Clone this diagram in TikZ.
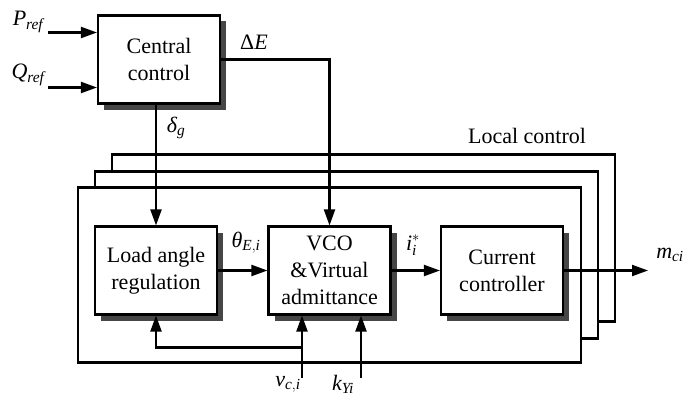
\documentclass[tikz,border=0pt]{standalone}
\usepackage{amsmath}
\usepackage{fontspec}
\setmainfont{Liberation Serif}
\newfontfamily\tnr{Liberation Serif}
\usetikzlibrary{arrows.meta,shadows}
\definecolor{shadowc}{RGB}{70,70,70}
\newcommand{\mi}[1]{\textit{#1}}
\begin{document}
\begin{tikzpicture}[x=1pt,y=-1pt,
  line width=2.1pt,
  blk/.style={draw, fill=white, minimum width=122pt, minimum height=88pt, align=center,
    font=\tnr\fontsize{22}{27}\selectfont, inner sep=0pt,
    drop shadow={shadow xshift=6pt, shadow yshift=-6pt, opacity=1, fill=shadowc}},
  frame/.style={draw, fill=white},
  arr/.style={-{Triangle[length=16pt,width=11pt]}},
  lbl/.style={font=\tnr\fontsize{22}{26}\selectfont, inner sep=0pt},
]
\useasboundingbox (0,0) rectangle (692,401);

% local control frames (back to front)
\draw[frame] (112,154.5) rectangle (615,321.5);
\draw[frame] (95,171.5) rectangle (598,338.5);
\draw[frame] (78,187.5) rectangle (581,362.5);
\node[lbl] (loc) at (527,136) {Local control};

% blocks
\node[blk] (cc) at (159,59.5) {Central\\control};
\node[blk] (load) at (156,270.5) {Load angle\\regulation};
\node[blk] (vco) at (329.5,270.5) {VCO\\\&Virtual\\admittance};
\node[blk] (cur) at (502,270.5) {Current\\controller};

% inputs
\coordinate (pin) at (48,32.5);
\coordinate (qin) at (48,87.5);
\draw[arr] (pin) -- (pin -| cc.west);
\draw[arr] (qin) -- (qin -| cc.west);
\node[lbl] (plbl) at (28,22) {$\mi{P}_{\mi{ref}}$};
\node[lbl] (qlbl) at (28,75) {$\mi{Q}_{\mi{ref}}$};

% central outputs
\draw[arr] (load.north |- cc.south) -- (load.north);
\node[lbl] (dg) at (176,128) {$\mi{δ}_{\mi{g}}$};
\draw[arr] (cc.east) -| (vco.north);
\node[lbl] (de) at (254,42) {$\text{Δ}\mi{E}$};

% signal chain
\draw[arr] (load.east) -- (vco.west);
\node[lbl] (th) at (246,243) {$\mi{θ}_{\mi{E},\mi{i}}$};
\draw[arr] (vco.east) -- (cur.west);
\node[lbl] (ist) at (413,245) {$\mi{i}_{\mi{i}}^{*}$};
\coordinate (mout) at (648,270.5);
\draw[arr] (cur.east) -- (mout);
\node[lbl] (mlbl) at (670,255) {$\mi{m}_{\mi{ci}}$};

% feedback inputs
\coordinate (vc) at (302,378);
\coordinate (fb) at (302,347.5);
\coordinate (ky) at (361,378);
\draw[arr] (vc) -- (vc |- vco.south);
\draw[arr] (fb) -| (load.south);
\draw[arr] (ky) -- (ky |- vco.south);
\node[lbl] (vlbl) at (288,384) {$\mi{v}_{\mi{c},\mi{i}}$};
\node[lbl] (klbl) at (343,384) {$\mi{k}_{\mi{Yi}}$};
\end{tikzpicture}
\end{document}
